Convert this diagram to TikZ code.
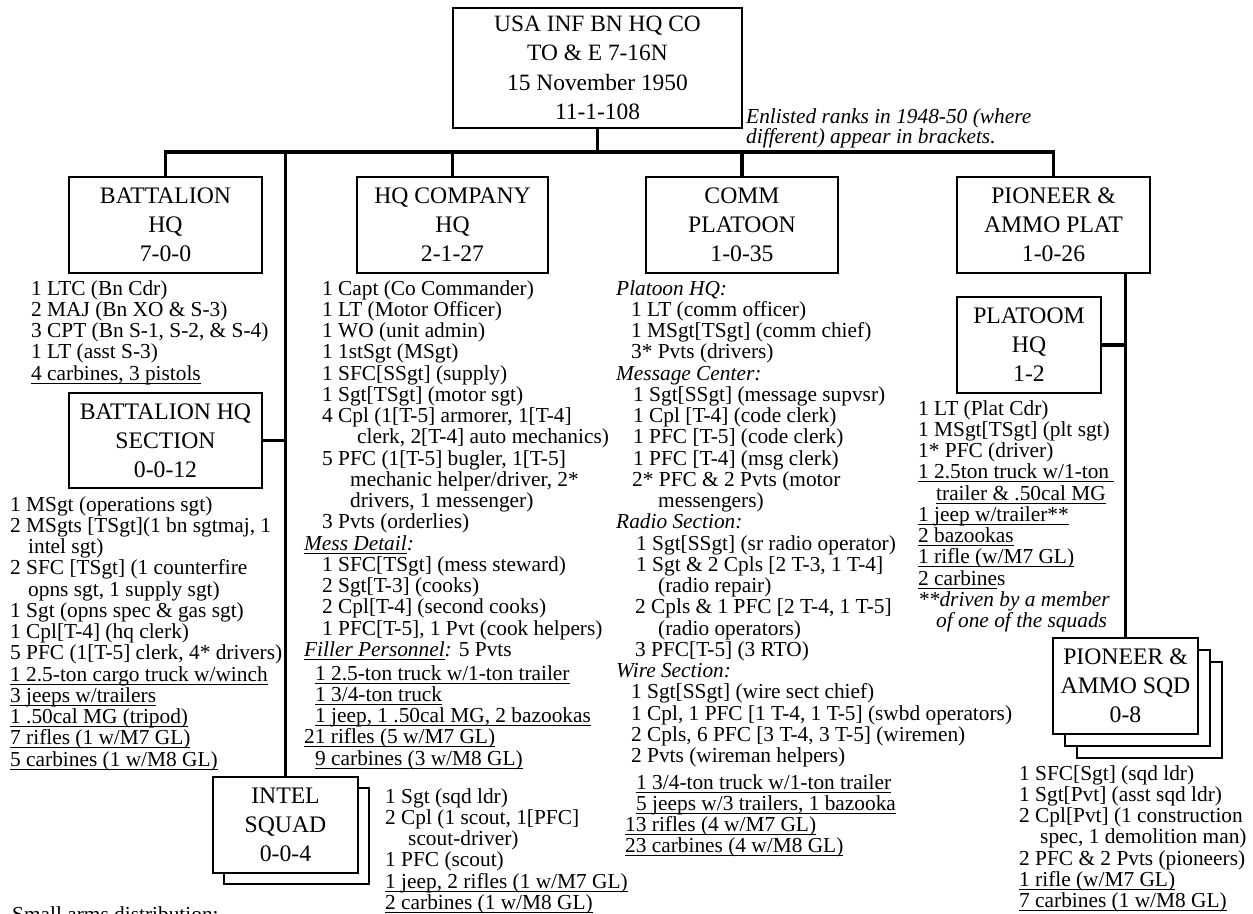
\documentclass[tikz,border=0pt]{standalone}
\usepackage{fontspec}
\setmainfont{Liberation Serif}
\newsavebox\myulbox
\newcommand\myul[1]{\sbox\myulbox{#1}\rlap{\rule[-3.7pt]{\wd\myulbox}{1.1pt}}\usebox\myulbox}
\newcommand\txtfont{\fontsize{21.35}{21.25}\selectfont}
\newcommand\boxfont{\fontsize{23.7}{29}\selectfont}
\newcommand\topfont{\fontsize{23.4}{29.4}\selectfont}
\newcommand\myind[1]{\hspace*{#1pt}}
\begin{document}
\begin{tikzpicture}[x=1pt,y=-1pt,
  box/.style={draw, line width=2.2pt, fill=white, inner sep=0pt, align=center, font=\boxfont},
  conn/.style={line width=3.2pt},
  txt/.style={anchor=base west, inner sep=0pt, align=left, font=\txtfont},
]
\useasboundingbox (0,0) rectangle (1253,913);
\fill[white] (0,0) rectangle (1253,913);

% boxes
\node[box, font=\topfont, minimum width=289pt, minimum height=120pt] (top) at (597.5,68)
  {USA INF BN HQ CO\\TO \& E 7-16N\\15 November 1950\\11-1-108};
\node[box, minimum width=193pt, minimum height=96pt] (bhq) at (165.5,225) {BATTALION\\HQ\\7-0-0};
\node[box, minimum width=191pt, minimum height=96pt] (hqco) at (452.5,225) {HQ COMPANY\\HQ\\2-1-27};
\node[box, minimum width=192pt, minimum height=96pt] (comm) at (742,225) {COMM\\PLATOON\\1-0-35};
\node[box, minimum width=193pt, minimum height=96pt] (pio) at (1053.5,225) {PIONEER \&\\AMMO PLAT\\1-0-26};
\node[box, minimum width=193pt, minimum height=95pt] (bhqs) at (165.5,440.5) {BATTALION HQ\\SECTION\\0-0-12};
\node[box, minimum width=144pt, minimum height=96pt] (plhq) at (1029,345) {PLATOOM\\HQ\\1-2};
\node[box, minimum width=145pt, minimum height=96pt] (intelB) at (296.5,836) {};
\node[box, minimum width=145pt, minimum height=96pt] (intel) at (285.5,825) {INTEL\\SQUAD\\0-0-4};
\node[box, minimum width=145pt, minimum height=96pt] (pisqdC) at (1149.5,710) {};
\node[box, minimum width=145pt, minimum height=96pt] (pisqdB) at (1137.5,698) {};
\node[box, minimum width=145pt, minimum height=96pt] (pisqd) at (1125.5,686) {PIONEER \&\\AMMO SQD\\0-8};

% connectors
\coordinate (bus) at (597.5,153);
\draw[conn] (bhq.north) -- ++(0,-24) -| (pio.north);
\draw[conn] (top.south) -- (bus);
\draw[conn] (hqco.north) -- (hqco.north |- bus);
\draw[conn] (comm.north) -- (comm.north |- bus);
\draw[conn] (intel.north |- bus) -- (intel.north);
\draw[conn] (bhqs.east) -- (intel.north |- bhqs.east);
\draw[conn] (pisqd.north |- pio.south) -- (pisqd.north);
\draw[conn] (plhq.east) -- (pisqd.north |- plhq.east);

% note
\node[txt, font=\fontsize{21.35}{20}\selectfont\itshape] (note) at (746,143)
  {Enlisted ranks in 1948-50 (where\\different) appear in brackets.};

% texts (anchored at the baseline of the last line)
\node[txt] (tbhq) at (31,380) {1 LTC (Bn Cdr)\\2 MAJ (Bn XO \& S-3)\\3 CPT (Bn S-1, S-2, \& S-4)\\1 LT (asst S-3)\\\myul{4 carbines, 3 pistols}};

\node[txt] (tbhqs) at (10,766) {1 MSgt (operations sgt)\\
2 MSgts [TSgt](1 bn sgtmaj, 1\\
\myind{18}intel sgt)\\
2 SFC [TSgt] (1 counterfire\\
\myind{18}opns sgt, 1 supply sgt)\\
1 Sgt (opns spec \& gas sgt)\\
1 Cpl[T-4] (hq clerk)\\
5 PFC (1[T-5] clerk, 4* drivers)\\
\myul{1 2.5-ton cargo truck w/winch}\\
\myul{3 jeeps w/trailers}\\
\myul{1 .50cal MG (tripod)}\\
\myul{7 rifles (1 w/M7 GL)}\\
\myul{5 carbines (1 w/M8 GL)}};

\node[txt] (thqco) at (304,765) {\myind{18}1 Capt (Co Commander)\\
\myind{18}1 LT (Motor Officer)\\
\myind{18}1 WO (unit admin)\\
\myind{18}1 1stSgt (MSgt)\\
\myind{18}1 SFC[SSgt] (supply)\\
\myind{18}1 Sgt[TSgt] (motor sgt)\\
\myind{18}4 Cpl (1[T-5] armorer, 1[T-4]\\
\myind{53}clerk, 2[T-4] auto mechanics)\\
\myind{18}5 PFC (1[T-5] bugler, 1[T-5]\\
\myind{46}mechanic helper/driver, 2*\\
\myind{46}drivers, 1 messenger)\\
\myind{18}3 Pvts (orderlies)\\
\myul{\textit{Mess Detail}}\textit{:}\\
\myind{18}1 SFC[TSgt] (mess steward)\\
\myind{18}2 Sgt[T-3] (cooks)\\
\myind{18}2 Cpl[T-4] (second cooks)\\
\myind{18}1 PFC[T-5], 1 Pvt (cook helpers)\\
\myul{\textit{Filler Personnel}}\textit{:} 5 Pvts\\[2.5pt]
\myind{11}\myul{1 2.5-ton truck w/1-ton trailer}\\
\myind{11}\myul{1 3/4-ton truck}\\
\myind{11}\myul{1 jeep, 1 .50cal MG, 2 bazookas}\\
\myul{21 rifles (5 w/M7 GL)}\\
\myind{11}\myul{9 carbines (3 w/M8 GL)}};

\node[txt] (tcomm) at (616,852.75) {\textit{Platoon HQ:}\\
\myind{15}1 LT (comm officer)\\
\myind{15}1 MSgt[TSgt] (comm chief)\\
\myind{15}3* Pvts (drivers)\\
\textit{Message Center:}\\
\myind{17}1 Sgt[SSgt] (message supvsr)\\
\myind{17}1 Cpl [T-4] (code clerk)\\
\myind{17}1 PFC [T-5] (code clerk)\\
\myind{17}1 PFC [T-4] (msg clerk)\\
\myind{16}2* PFC \& 2 Pvts (motor\\
\myind{42}messengers)\\
\textit{Radio Section:}\\
\myind{20}1 Sgt[SSgt] (sr radio operator)\\
\myind{20}1 Sgt \& 2 Cpls [2 T-3, 1 T-4]\\
\myind{42}(radio repair)\\
\myind{19}2 Cpls \& 1 PFC [2 T-4, 1 T-5]\\
\myind{42}(radio operators)\\
\myind{19}3 PFC[T-5] (3 RTO)\\
\textit{Wire Section:}\\
\myind{15}1 Sgt[SSgt] (wire sect chief)\\
\myind{15}1 Cpl, 1 PFC [1 T-4, 1 T-5] (swbd operators)\\
\myind{15}2 Cpls, 6 PFC [3 T-4, 3 T-5] (wiremen)\\
\myind{15}2 Pvts (wireman helpers)\\[5.25pt]
\myind{20}\myul{1 3/4-ton truck w/1-ton trailer}\\
\myind{20}\myul{5 jeeps w/3 trailers, 1 bazooka}\\
\myind{9}\myul{13 rifles (4 w/M7 GL)}\\
\myind{9}\myul{23 carbines (4 w/M8 GL)}};

\node[txt] (tplhq) at (918,627.5) {1 LT (Plat Cdr)\\
1 MSgt[TSgt] (plt sgt)\\
1* PFC (driver)\\
\myul{1 2.5ton truck w/1-ton\hspace{5pt}}\\
\myind{18}\myul{trailer \& .50cal MG}\\
\myul{1 jeep w/trailer**}\\
\myul{2 bazookas}\\
\myul{1 rifle (w/M7 GL)}\\
\myul{2 carbine}s\\
\textit{**driven by a member}\\
\myind{18}\textit{of one of the squads}};

\node[txt] (tpisqd) at (1019,907.5) {1 SFC[Sgt] (sqd ldr)\\
1 Sgt[Pvt] (asst sqd ldr)\\
2 Cpl[Pvt] (1 construction\\
\myind{21}spec, 1 demolition man)\\
2 PFC \& 2 Pvts (pioneers)\\
\myul{1 rifle (w/M7 GL)}\\
\myul{7 carbines (1 w/M8 GL)}};

\node[txt] (tintel) at (385,909.25) {1 Sgt (sqd ldr)\\
2 Cpl (1 scout, 1[PFC]\\
\myind{23}scout-driver)\\
1 PFC (scout)\\
\myul{1 jeep, 2 rifles (1 w/M7 GL)}\\
\myul{2 carbines (1 w/M8 GL)}};

\node[txt] (small) at (12,921) {Small arms distribution:};
\end{tikzpicture}
\end{document}
